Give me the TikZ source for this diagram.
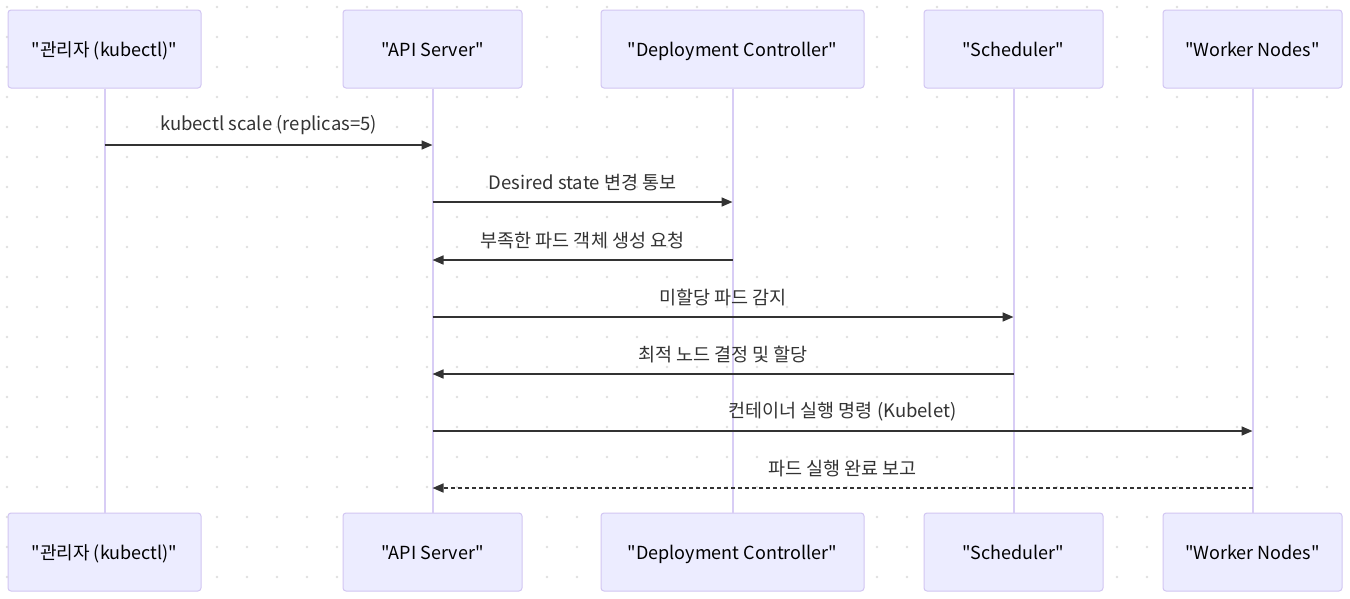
\documentclass[tikz,border=0pt]{standalone}
\usepackage{fontspec}
\newfontfamily\krfont{Noto Sans CJK KR}
\usetikzlibrary{arrows.meta}
\definecolor{boxfill}{HTML}{ECECFF}
\definecolor{boxline}{HTML}{D2C6F2}
\definecolor{lifeline}{HTML}{D8CDF5}
\definecolor{msgcol}{HTML}{333333}
\definecolor{dotcol}{HTML}{E0E0E0}
\begin{document}
\begin{tikzpicture}[x=1pt,y=-1pt,
  actor/.style={draw=boxline,fill=boxfill,line width=1pt,rounded corners=3pt,
    minimum height=78pt,inner sep=0pt,text height=14pt,text depth=0pt,
    font=\krfont\fontsize{18}{21}\selectfont,text=black},
  life/.style={draw=lifeline,line width=2pt},
  msg/.style={draw=msgcol,line width=1.6pt,-{Triangle[length=11pt,width=9pt]}},
  dmsg/.style={msg,dash pattern=on 3.5pt off 3.5pt},
  lbl/.style={font=\krfont\fontsize{18.5}{21}\selectfont,text=msgcol,inner sep=0pt}]
\useasboundingbox (0,0) rectangle (1350,598);
\fill[white] (0,0) rectangle (1350,598);
\foreach \i in {0,...,44}{\foreach \j in {0,...,19}{
  \fill[dotcol] (7+30*\i,7+30*\j) circle (1.4pt);}}
% top actors
\node[actor,minimum width=193pt] (t1) at (104.5,49) {"관리자 (kubectl)"};
\node[actor,minimum width=179pt] (t2) at (432.5,49) {"API Server"};
\node[actor,minimum width=263pt] (t3) at (732.5,49) {"Deployment Controller"};
\node[actor,minimum width=179pt] (t4) at (1013.5,49) {"Scheduler"};
\node[actor,minimum width=179pt] (t5) at (1252.5,49) {"Worker Nodes"};
% bottom actors
\node[actor,minimum width=193pt] (b1) at (104.5,552) {"관리자 (kubectl)"};
\node[actor,minimum width=179pt] (b2) at (432.5,552) {"API Server"};
\node[actor,minimum width=263pt] (b3) at (732.5,552) {"Deployment Controller"};
\node[actor,minimum width=179pt] (b4) at (1013.5,552) {"Scheduler"};
\node[actor,minimum width=179pt] (b5) at (1252.5,552) {"Worker Nodes"};
% lifelines
\foreach \k in {1,...,5}{\draw[life] (t\k.south) -- (b\k.north);}
% message rows
\coordinate (r1) at (0,145);
\coordinate (r2) at (0,202);
\coordinate (r3) at (0,260);
\coordinate (r4) at (0,317);
\coordinate (r5) at (0,374);
\coordinate (r6) at (0,431);
\coordinate (r7) at (0,488);
\draw[msg] (t1 |- r1) -- (t2 |- r1) node[lbl,midway,yshift=19.5pt] (l1) {kubectl scale (replicas=5)};
\draw[msg] (t2 |- r2) -- (t3 |- r2) node[lbl,midway,yshift=19.5pt] (l2) {Desired state 변경 통보};
\draw[msg] (t3 |- r3) -- (t2 |- r3) node[lbl,midway,yshift=19.5pt] (l3) {부족한 파드 객체 생성 요청};
\draw[msg] (t2 |- r4) -- (t4 |- r4) node[lbl,midway,yshift=19.5pt] (l4) {미할당 파드 감지};
\draw[msg] (t4 |- r5) -- (t2 |- r5) node[lbl,midway,yshift=19.5pt] (l5) {최적 노드 결정 및 할당};
\draw[msg] (t2 |- r6) -- (t5 |- r6) node[lbl,midway,yshift=19.5pt] (l6) {컨테이너 실행 명령 (Kubelet)};
\draw[dmsg] (t5 |- r7) -- (t2 |- r7) node[lbl,midway,yshift=19.5pt] (l7) {파드 실행 완료 보고};
\end{tikzpicture}
\end{document}
